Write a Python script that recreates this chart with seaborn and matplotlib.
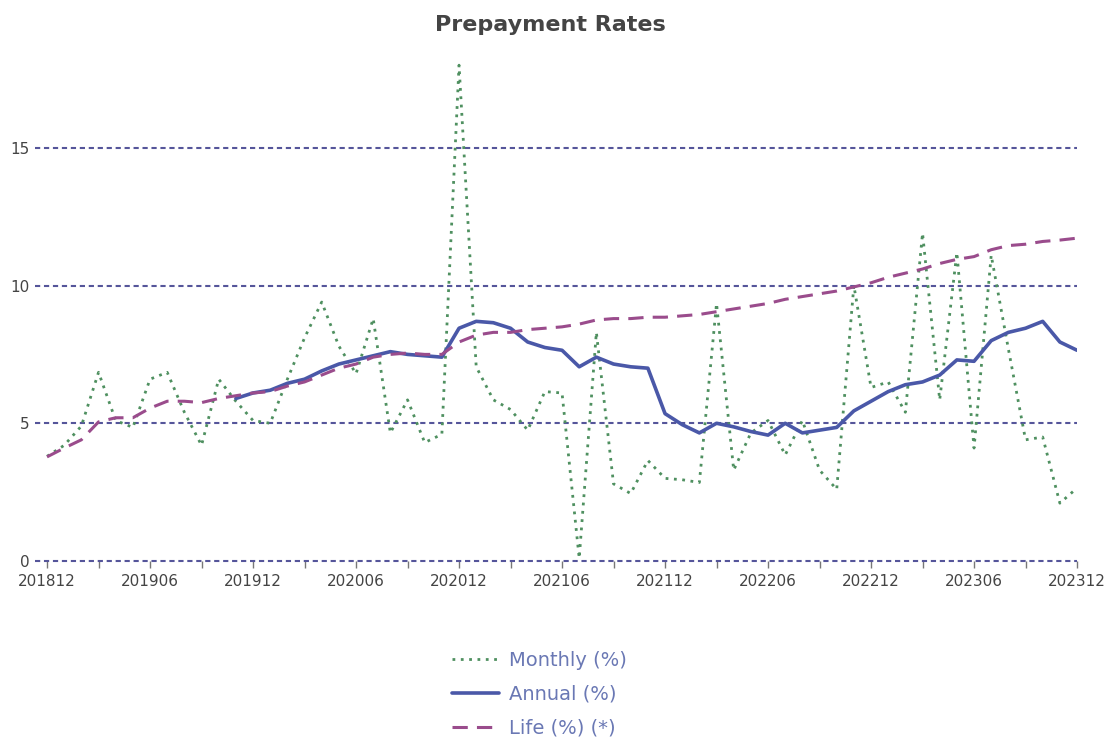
import matplotlib
matplotlib.use("Agg")
import numpy as np
import pandas as pd
import matplotlib.pyplot as plt
import seaborn as sns

# ── data ───────────────────────────────────────────────────
periods = [f"{y}{m:02d}" for y, m in
           [(2018, 12)] + [(y, m) for y in range(2019, 2024) for m in range(1, 13)]]

monthly = [3.8, 4.2, 4.9, 6.85, 5.1, 4.85, 6.6, 6.85, 5.4, 4.2,
           6.6, 5.8, 5.1, 5.0, 6.6, 8.1, 9.4, 7.8, 6.8, 8.8,
           4.65, 5.85, 4.3, 4.6, 18.0, 7.05, 5.85, 5.5, 4.75, 6.15,
           6.1, 0.1, 8.3, 2.8, 2.45, 3.65, 3.0, 2.95, 2.85, 9.35,
           3.3, 4.65, 5.1, 3.85, 5.1, 3.3, 2.6, 10.0, 6.3, 6.5,
           5.4, 11.9, 5.85, 11.2, 4.1, 11.1, 7.7, 4.4, 4.5, 2.1,
           2.65]

annual = [np.nan] * 11 + [
           5.9, 6.1, 6.2, 6.45, 6.6, 6.9, 7.15, 7.3, 7.45, 7.6,
           7.5, 7.45, 7.4, 8.45, 8.7, 8.65, 8.45, 7.95, 7.75, 7.65,
           7.05, 7.4, 7.15, 7.05, 7.0, 5.35, 4.95, 4.65, 5.0, 4.87,
           4.7, 4.57, 5.0, 4.65, 4.75, 4.85, 5.45, 5.8, 6.15, 6.4,
           6.5, 6.75, 7.3, 7.25, 8.0, 8.3, 8.45, 8.7, 7.95, 7.65]

life = [3.78, 4.1, 4.4, 5.05, 5.2, 5.2, 5.55, 5.8, 5.8, 5.75,
        5.9, 6.0, 6.1, 6.15, 6.35, 6.5, 6.75, 7.0, 7.15, 7.4,
        7.5, 7.55, 7.5, 7.5, 7.95, 8.2, 8.3, 8.3, 8.4, 8.45,
        8.5, 8.6, 8.75, 8.8, 8.8, 8.85, 8.85, 8.9, 8.95, 9.05,
        9.15, 9.25, 9.35, 9.5, 9.6, 9.7, 9.8, 9.95, 10.1, 10.3,
        10.45, 10.6, 10.8, 10.95, 11.05, 11.3, 11.45, 11.5, 11.6, 11.65,
        11.72]

df = pd.DataFrame({
    "idx": np.arange(len(periods)),
    "period": periods,
    "Monthly (%)": monthly,
    "Annual (%)": annual,
    "Life (%) (*)": life,
})

# ── styling ────────────────────────────────────────────────
sns.set_style("white")
plt.rcParams["font.family"] = ["DejaVu Sans"]

GRID = "#55559a"
GREEN = "#4f9060"
BLUE = "#4a58a8"
PURPLE = "#9a4c8c"
LABEL = "#444444"

fig = plt.figure(figsize=(11.19, 7.37), dpi=100)
ax = fig.add_axes([0.0313, 0.2388, 0.9312, 0.684])

for yv in [0, 5, 10, 15]:
    ax.axhline(yv, color=GRID, lw=1.5, ls=(0, (2.5, 1.8)), zorder=1, clip_on=False)

sns.lineplot(data=df, x="idx", y="Monthly (%)", ax=ax, color=GREEN,
             lw=2.0, linestyle=(0, (1, 2)), label="Monthly (%)", zorder=3)
sns.lineplot(data=df.dropna(subset=["Annual (%)"]), x="idx", y="Annual (%)",
             ax=ax, color=BLUE, lw=2.6, label="Annual (%)", zorder=4)
sns.lineplot(data=df, x="idx", y="Life (%) (*)", ax=ax, color=PURPLE,
             lw=2.2, linestyle=(0, (5, 3)), label="Life (%) (*)", zorder=5)

ax.set_xlim(-0.7, 60)
ax.set_ylim(0, 18.3)
ax.set_xlabel("")
ax.set_ylabel("")
for s in ax.spines.values():
    s.set_visible(False)

tick_pos = list(range(0, 61, 3))
ax.set_xticks(tick_pos)
ax.set_xticklabels([periods[i] if i % 6 == 0 else "" for i in tick_pos])
ax.tick_params(axis="x", length=5, width=1, color="#777777", direction="out",
               labelsize=11, labelcolor=LABEL, pad=4, bottom=True)
ax.set_yticks([0, 5, 10, 15])
ax.tick_params(axis="y", length=0, labelsize=11, labelcolor=LABEL, pad=4)

fig.text(0.4915, 0.966, "Prepayment Rates", fontsize=16, fontweight="bold",
         color="#444444", ha="center", va="center")

handles, labels = ax.get_legend_handles_labels()
ax.get_legend().remove()
fig.legend(handles, labels, loc="center", bbox_to_anchor=(0.482, 0.058),
           frameon=False, fontsize=14, labelcolor="#6a78b4",
           handlelength=2.4, labelspacing=0.75, handletextpad=0.5)

plt.savefig("out.png", dpi=100)
